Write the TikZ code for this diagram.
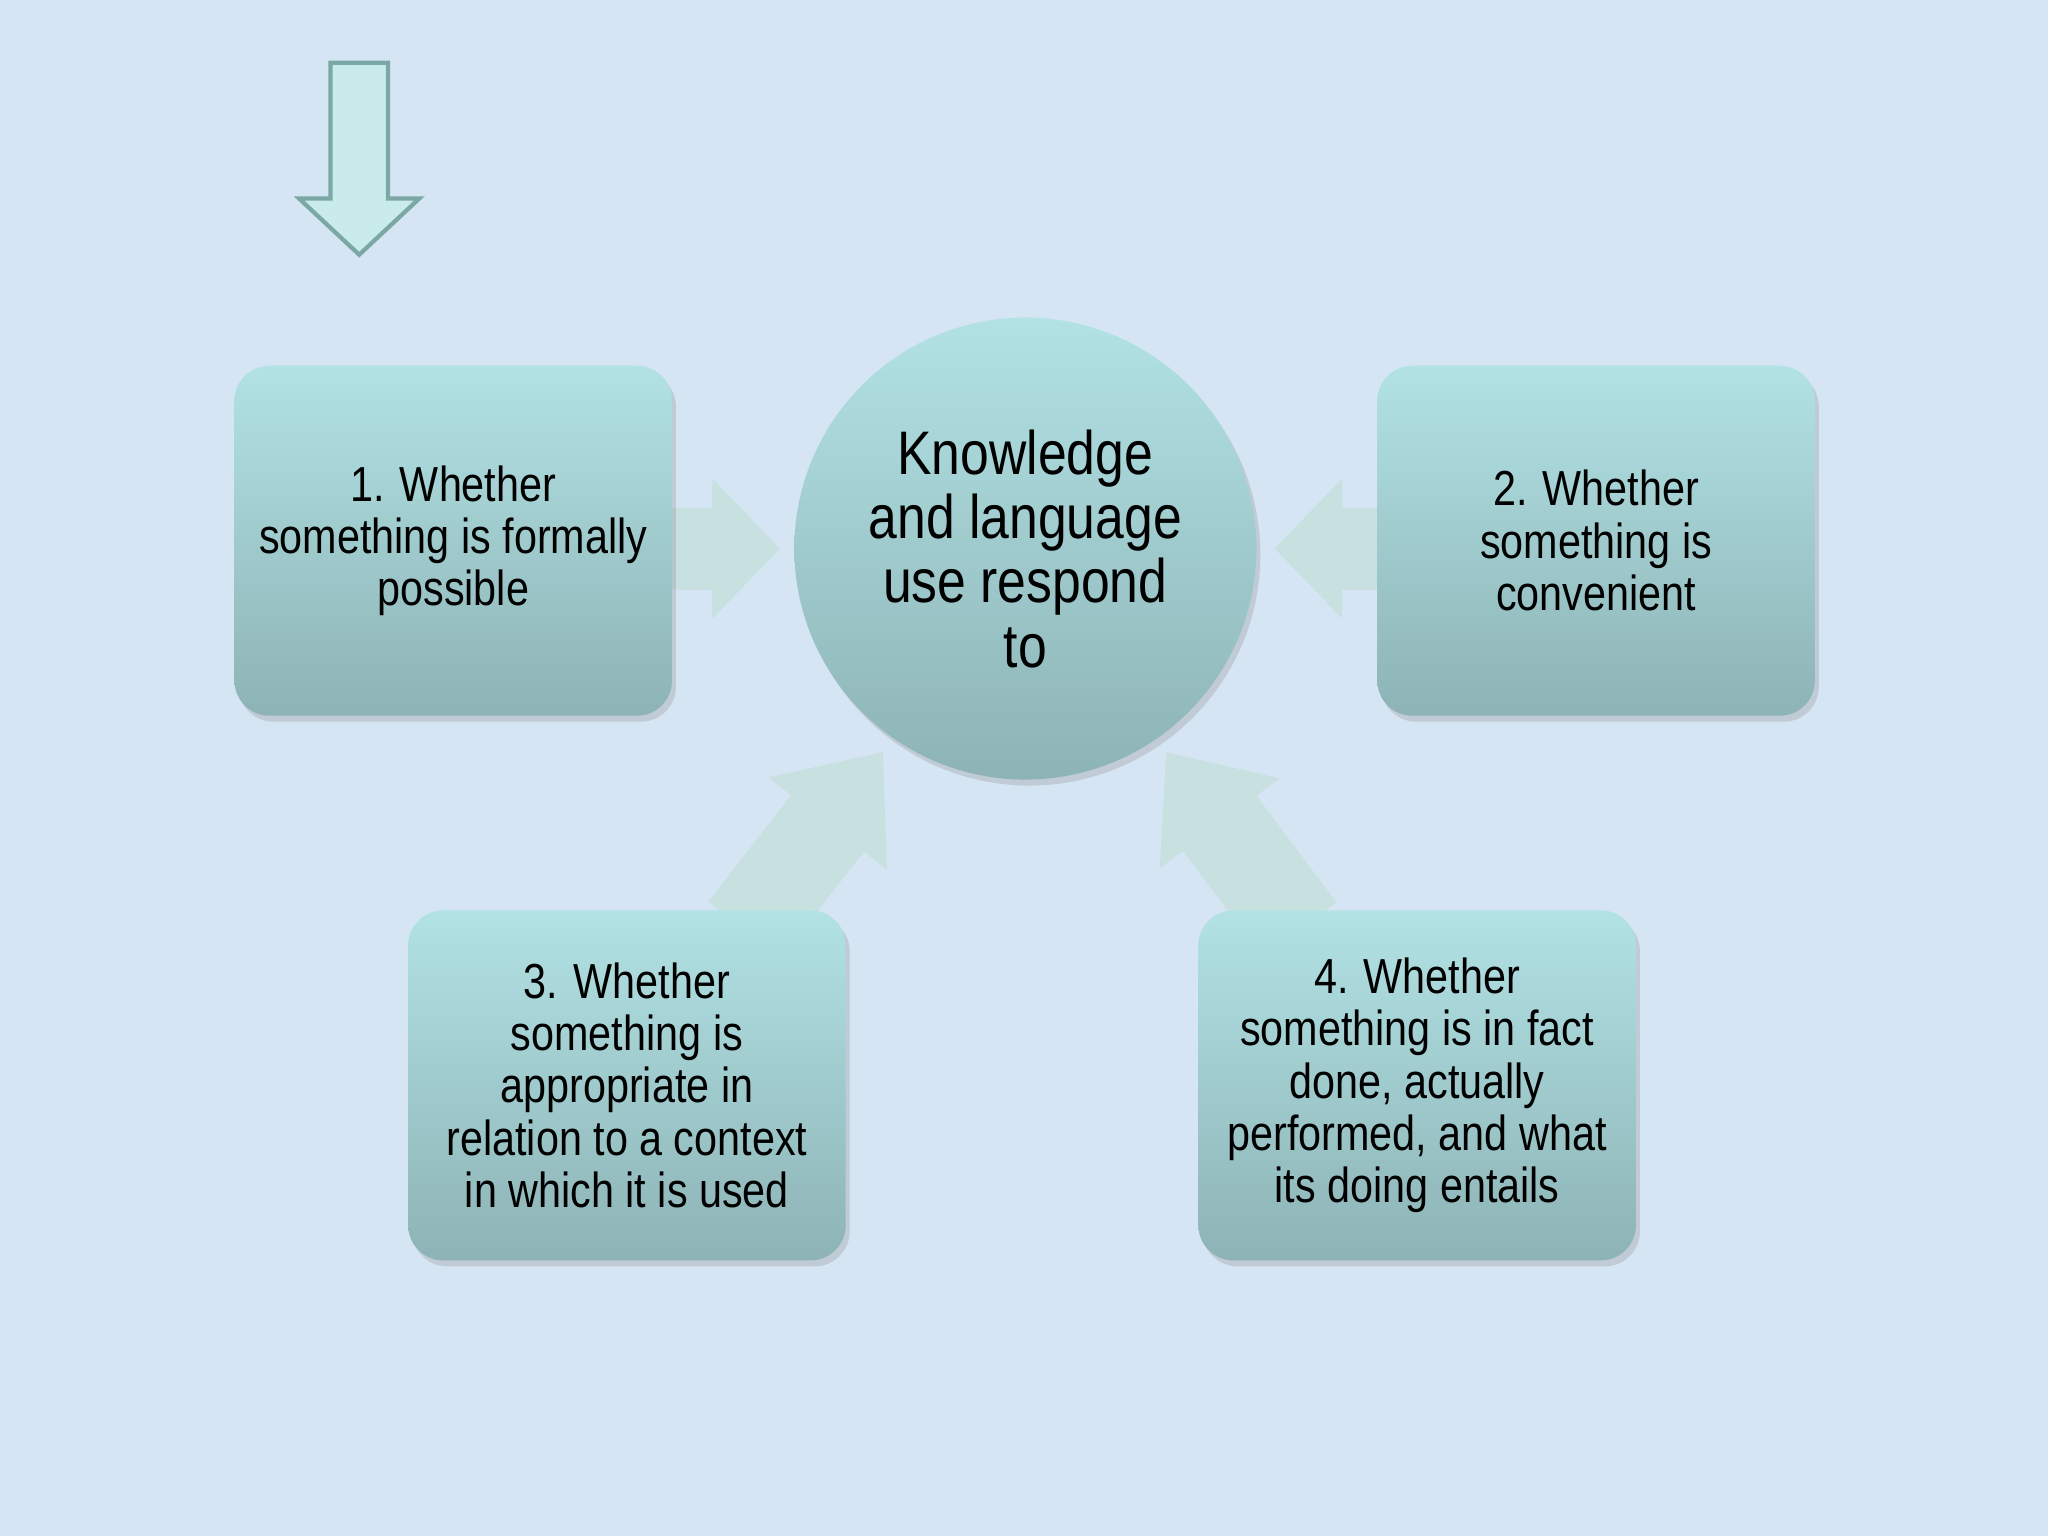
\documentclass[tikz,border=0pt]{standalone}
\usepackage{fontspec}
\setmainfont[FakeStretch=0.84]{Liberation Sans}
\usetikzlibrary{calc,shadows}
\definecolor{bg}{HTML}{D6E5F3}
\definecolor{boxtop}{HTML}{B2E2E4}
\definecolor{boxbot}{HTML}{8DB3B6}
\definecolor{arrfill}{HTML}{C8E0E0}
\definecolor{arrline}{HTML}{7BA7A4}
\tikzset{
  box/.style={rounded corners=0.35cm, top color=boxtop, bottom color=boxbot,
     minimum width=4.375cm, minimum height=3.5cm, align=center,
     font=\fontsize{14}{14.9}\selectfont, drop shadow={opacity=0.25,shadow xshift=0.04cm,shadow yshift=-0.06cm}},
  hub/.style={circle, top color=boxtop, bottom color=boxbot, minimum size=4.62cm,
     align=center, font=\fontsize{17.5}{18.3}\selectfont,
     drop shadow={opacity=0.25,shadow xshift=0.04cm,shadow yshift=-0.06cm}},
  barr/.style={fill=arrfill, draw=none}
}
% block arrow: #1 base, #2 tip, #3 head start fraction, #4 shaft half width, #5 head half width
\newcommand\barrow[5]{%
  \fill[barr] ($(#1)!#4!90:(#2)$) -- ($($(#1)!#3!(#2)$)!#4!90:(#2)$) -- ($($(#1)!#3!(#2)$)!#5!90:(#2)$)
   -- (#2) -- ($($(#1)!#3!(#2)$)!#5!-90:(#2)$) -- ($($(#1)!#3!(#2)$)!#4!-90:(#2)$) -- ($(#1)!#4!-90:(#2)$) -- cycle;}
\begin{document}
\begin{tikzpicture}[x=0.01306cm,y=-0.01306cm]
\fill[bg] (0,0) rectangle (1568,1176);
\useasboundingbox (0,0) rectangle (1568,1176);
% top-left arrow
\draw[fill=boxtop!70!white, draw=arrline, line width=1.2pt]
  (253,48) -- (297,48) -- (297,152) -- (321,152) -- (275,195) -- (229,152) -- (253,152) -- cycle;
% connectors (block arrows)
\coordinate (a1s) at (505,420); \coordinate (a1t) at (597,420);
\coordinate (a2s) at (1065,420); \coordinate (a2t) at (976,420);
\coordinate (a3s) at (570,712); \coordinate (a3t) at (676,576);
\coordinate (a4s) at (995,712); \coordinate (a4t) at (893,576);
\barrow{a1s}{a1t}{0.44}{0.41cm}{0.7cm}
\barrow{a2s}{a2t}{0.42}{0.41cm}{0.7cm}
\barrow{a3s}{a3t}{0.6}{0.46cm}{0.75cm}
\barrow{a4s}{a4t}{0.6}{0.46cm}{0.75cm}
\node[hub] (c) at (785,420) {Knowledge\\and language\\use respond\\to};
\node[box] (b1) at (347,414) {1. Whether\\something is formally\\possible};
\node[box] (b2) at (1222,414) {2. Whether\\something is\\convenient};
\node[box] (b3) at (480,831) {3. Whether\\something is\\appropriate in\\relation to a context\\in which it is used};
\node[box] (b4) at (1085,831) {4. Whether\\something is in fact\\done, actually\\performed, and what\\its doing entails};
\end{tikzpicture}
\end{document}
